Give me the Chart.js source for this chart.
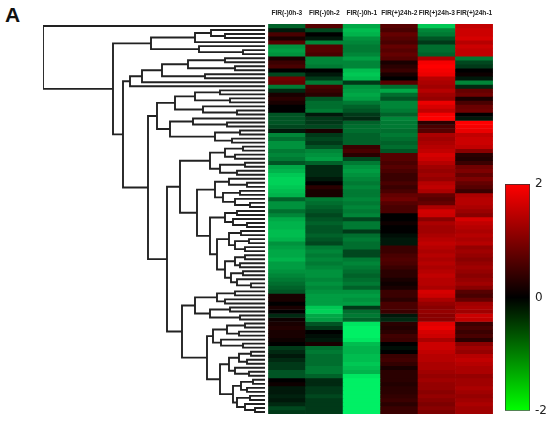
<!DOCTYPE html>
<html>
<head>
<meta charset="utf-8">
<script src="https://cdn.jsdelivr.net/npm/chart.js@4.4.0/dist/chart.umd.min.js"></script>
<style>
  body { margin: 0; background: #fff; }
  #wrap { position: relative; width: 550px; height: 423px; overflow: hidden; }
  canvas { position: absolute; top: 0; }
  #tag { position: absolute; left: 5px; top: 3px; line-height: 20px; font: bold 21px "Liberation Sans", Arial, sans-serif; color: #111; }
</style>
</head>
<body>
<div id="wrap">
  <div id="tag">A</div>
  <canvas id="tree" width="266" height="423" style="left:0px"></canvas>
  <canvas id="heat" width="234" height="423" style="left:265px"></canvas>
  <canvas id="scale" width="60" height="423" style="left:490px"></canvas>
</div>
<script>
// Column names (samples)
const samples = ["FIR(-)0h-3", "FIR(-)0h-2", "FIR(-)0h-1", "FIR(+)24h-2", "FIR(+)24h-3", "FIR(+)24h-1"];

// Colour bar range and ticks
const scaleRange = [-2, 2];
const scaleTicks = [2, 0, -2];

// Expression values per sample, rows top to bottom (97 genes)
const fir0h3 = [-0.6, -0.1, 0.4, 0.1, 0.5, -1.0, -1.1, -1.0, 0.1, 0.3,
  0.4, 0.0, -0.4, 0.7, 0.6, -0.8, -0.2, 0.1, 0.2, 0.1,
  0.0, 0.0, -0.5, -0.5, -0.5, -0.4, -0.1, -0.9, -0.7, -1.0,
  -1.0, -0.8, -0.9, -0.8, -0.5, -1.2, -1.3, -1.5, -1.6, -1.6,
  -1.5, -1.4, -1.3, -0.6, -1.0, -1.0, -0.7, -0.9, -1.2, -1.3,
  -1.3, -1.4, -1.4, -1.3, -1.0, -1.1, -1.2, -1.2, -1.3, -1.1,
  -1.1, -1.0, -0.9, -0.8, -0.7, -0.6, -0.5, 0.1, 0.1, 0.0,
  0.1, 0.0, -0.2, 0.05, 0.1, 0.15, 0.1, 0.1, 0.05, 0.0,
  -0.3, -0.2, -0.1, -0.2, -0.3, -0.3, -0.5, -0.5, 0.0, 0.05,
  -0.1, -0.1, -0.15, -0.1, -0.2, -0.4, -0.3];
const fir0h2 = [0.5, -0.4, 0.0, -0.1, -0.9, 0.5, 0.5, 0.4, -0.9, -0.9,
  -0.8, 0.0, -0.1, -0.3, -0.8, 0.4, 0.3, 0.2, -0.5, -0.7,
  -0.7, -0.8, -0.1, -0.3, -0.3, -0.4, 0.1, -0.3, -0.4, -0.3,
  -0.5, -0.9, -1.0, -1.1, -0.6, -0.2, -0.2, -0.2, -0.1, 0.0,
  0.2, 0.1, 0.1, -0.8, -0.7, -0.6, -0.5, -0.4, -0.5, -0.6,
  -0.5, -0.5, -0.6, -0.5, -0.4, -0.8, -0.9, -0.8, -0.9, -0.8,
  -0.9, -1.0, -1.0, -0.9, -1.0, -0.9, -1.0, -1.1, -1.1, -1.1,
  -1.5, -1.6, -1.2, -1.1, -0.5, -0.3, 0.0, -0.05, -0.1, 0.1,
  -0.7, -0.8, -0.7, -0.7, -0.7, -0.8, -0.8, -0.6, -0.2, -0.2,
  -0.3, -0.3, -0.4, -0.3, -0.3, -0.3, -0.3];
const fir0h1 = [-1.2, -1.4, -1.3, -1.0, -0.9, -0.8, -0.8, -0.9, -1.1, -0.9,
  -0.9, -1.4, -1.5, -1.4, -0.3, -1.0, -1.1, -1.2, -1.1, -0.8,
  -0.6, -0.5, -0.3, -0.2, -0.6, -0.7, -0.7, -0.6, -0.6, -0.6,
  0.3, 0.4, 0.2, -0.4, -0.8, -1.0, -1.1, -1.0, -0.9, -0.8,
  -0.9, -0.8, -0.8, -0.9, -0.8, -0.9, -0.8, -0.9, -0.4, -0.8,
  -0.8, -0.3, -0.7, -0.8, -0.7, -0.7, -0.4, -0.4, -0.8, -0.9,
  -0.8, -0.7, -0.6, -0.7, -0.8, -0.6, -1.0, -1.1, -1.0, -1.1,
  -0.3, -0.7, -0.8, -0.6, -1.8, -1.9, -1.9, -1.9, -1.8, -1.4,
  -1.3, -1.3, -1.4, -1.4, -1.5, -1.4, -1.3, -1.8, -1.9, -1.9,
  -1.9, -1.9, -1.9, -1.9, -1.9, -1.9, -1.9];
const fir24h2 = [0.5, 0.4, 0.6, 0.5, 0.4, 0.6, 0.5, 0.6, 0.5, 0.1,
  0.2, 0.3, 0.1, 0.0, 0.5, -0.7, -1.2, -0.7, -0.5, -0.9,
  -0.9, -0.8, -0.6, -0.9, -0.8, -0.8, -0.7, -0.8, -0.7, -0.6,
  -0.7, -0.5, 0.5, 0.5, 0.4, 0.5, 0.4, 0.3, 0.3, 0.4,
  0.3, 0.4, 0.6, 0.7, 0.5, 0.4, 0.4, 0.0, 0.0, 0.05,
  0.0, 0.0, -0.05, -0.1, -0.1, 0.3, 0.3, 0.4, 0.45, 0.4,
  0.3, 0.2, 0.2, 0.1, 0.05, 0.1, 0.3, 0.3, 0.2, 0.4,
  0.4, 0.3, -0.1, -0.2, 0.2, 0.15, 0.2, 0.35, 0.3, 0.0,
  -0.05, 0.0, 0.3, 0.35, 0.25, 0.1, 0.2, 0.2, 0.2, 0.15,
  0.2, 0.2, 0.25, 0.3, 0.2, 0.3, 0.3];
const fir24h3 = [-1.5, -0.9, -0.8, -0.5, -0.3, -0.7, -0.7, -0.6, 1.2, 1.9,
  2.0, 1.9, 1.8, 1.3, 1.2, 1.1, 1.3, 1.1, 1.0, 1.8,
  1.6, 1.4, 1.9, 2.0, 0.2, 0.4, 0.5, 1.2, 1.1, 1.2,
  1.3, 1.4, 1.6, 1.5, 1.3, 1.1, 1.0, 1.1, 1.0, 1.3,
  1.4, 1.2, 0.6, 0.5, 0.6, 1.2, 1.55, 1.5, 0.9, 1.2,
  1.1, 1.1, 1.2, 1.3, 1.4, 1.3, 1.2, 1.3, 1.2, 1.3,
  1.2, 1.3, 1.4, 1.3, 1.3, 1.2, 1.6, 1.5, 1.2, 1.0,
  0.9, 1.0, 0.9, 0.9, 1.7, 1.8, 1.6, 1.5, 1.2, 1.5,
  1.5, 1.4, 1.3, 1.3, 1.2, 1.2, 1.1, 1.0, 1.1, 1.0,
  1.0, 0.9, 1.0, 0.9, 0.8, 0.9, 0.8];
const fir24h1 = [1.4, 1.5, 1.5, 1.6, 1.3, 1.5, 1.4, 1.4, -0.8, -0.4,
  -0.3, 0.0, 0.05, -0.1, -0.9, -0.2, 0.6, 0.7, 0.1, 0.4,
  0.65, 0.7, 0.0, -0.1, 2.0, 1.9, 1.8, 1.4, 1.5, 1.5,
  1.4, 0.9, 0.2, 0.15, 0.3, 0.7, 0.8, 0.6, 0.8, 0.6,
  0.5, 0.3, 1.2, 1.3, 1.3, 1.2, 1.05, 0.9, 1.6, 1.4,
  1.3, 1.2, 1.3, 1.2, 1.3, 1.0, 1.1, 1.0, 0.9, 1.0,
  1.1, 1.0, 0.9, 1.0, 1.1, 0.9, 0.5, 0.4, 0.6, 1.1,
  1.2, 1.1, 1.5, 1.4, 0.3, 0.4, 0.3, 0.4, 0.2, 0.9,
  1.1, 1.0, 1.3, 1.4, 1.3, 1.2, 1.2, 1.0, 1.1, 1.1,
  1.2, 1.1, 1.0, 1.1, 1.2, 1.1, 1.1];
const columns = [fir0h3, fir0h2, fir0h1, fir24h2, fir24h3, fir24h1];

// Row dendrogram: [merge height, upper child, lower child], leaves are row numbers
const clusterB = [114, [70, [54, 1, [40, 2, 3]], 4], [66, 5, [22, 6, 7]]];
const clusterF = [135, [123, [103, [77, [40, 8, 9], [30, 10, 11]], [60, 12, 13]], 14], 15];
const clusterE = [108,
  [90, [70, [45, 16, 17], [35, 18, 19]], [62, 20, [28, 21, 22]]],
  [95, [72, 23, [38, 24, 25]], [50, [25, 26, 27], [33, 28, 29]]]];
const clusterG1 = [85,
  [55, [40, [22, 30, 31], [30, 32, 33]], [45, [20, 34, 35], [28, 36, 37]]],
  [68,
    [50, [36, 38, [18, 39, 40]], [42, [25, 41, 42], [30, 43, [15, 44, 45]]]],
    [55,
      [40, [28, 46, 47], [32, 48, [18, 49, 50]]],
      [48,
        [36, [24, 51, 52], [30, [16, 53, 54], [20, 55, 56]]],
        [40, [30, [20, 57, 58], [25, 59, 60]], [34, [22, 61, 62], [28, 63, [14, 64, 65]]]]]]]];
const clusterG2 = [83,
  [70, [48, [30, 66, 67], [40, 68, 69]], [55, [35, 70, 71], [25, 72, 73]]],
  [58,
    [52, [38, [20, 74, 75], [26, 76, 77]], [44, 78, [22, 79, 80]]],
    [45,
      [36, [26, [14, 81, 82], [18, 83, 84]], [30, 85, [16, 86, 87]]],
      [32, [24, [12, 88, 89], [18, 90, 91]], [28, [15, 92, 93], [20, 94, [10, 95, 96]]]]]]];
const rowTree = [222, 0, [152, clusterB, [142, clusterF, [117, clusterE, [98, clusterG1, clusterG2]]]]];

window.onload = function () {
  const rowCount = fir0h3.length;

  // Turn the tree into U-shaped line pieces, broken by null points
  function walk(node, pts) {
    if (typeof node === "number") return { y: node, h: 0 };
    const a = walk(node[1], pts);
    const b = walk(node[2], pts);
    pts.push({ x: a.h, y: a.y }, { x: node[0], y: a.y }, { x: node[0], y: b.y }, { x: b.h, y: b.y }, { x: null, y: null });
    return { y: (a.y + b.y) / 2, h: node[0] };
  }
  const treePts = [];
  walk(rowTree, treePts);

  new Chart(document.getElementById("tree"), {
    type: "scatter",
    data: {
      datasets: [{
        data: treePts,
        showLine: true,
        spanGaps: false,
        borderColor: "#222",
        borderWidth: 1.9,
        pointRadius: 0,
      }],
    },
    options: {
      responsive: false,
      animation: false,
      layout: { padding: { left: 43, right: 1, top: 24, bottom: 9 } },
      plugins: { legend: { display: false }, tooltip: { enabled: false } },
      scales: {
        x: { type: "linear", display: false, reverse: true, min: 0, max: rowTree[0] },
        y: { type: "linear", display: false, reverse: true, min: -0.5, max: rowCount - 0.5 },
      },
    },
  });

  // Red / black / green colour for a value (slightly lifted mid tones)
  function cellColor(v) {
    const t = Math.pow(Math.min(Math.abs(v) / 2, 1), 0.78);
    if (v >= 0) return "rgb(" + Math.round(255 * t) + ",0,0)";
    return "rgb(0," + Math.round(250 * t) + "," + Math.round(105 * t) + ")";
  }

  // One dataset per row: floating bars, one per sample
  const heatSets = [];
  for (let r = 0; r < rowCount; r++) {
    heatSets.push({
      data: samples.map(() => [r - 0.5, r + 0.5]),
      backgroundColor: columns.map((col) => cellColor(col[r])),
      borderWidth: 0,
      grouped: false,
      barPercentage: 1,
      categoryPercentage: 1,
    });
  }

  new Chart(document.getElementById("heat"), {
    type: "bar",
    data: { labels: samples, datasets: heatSets },
    options: {
      responsive: false,
      animation: false,
      layout: { padding: { left: 0, right: 0, top: 0, bottom: 9 } },
      plugins: { legend: { display: false }, tooltip: { enabled: false } },
      scales: {
        x: {
          position: "top",
          grid: { display: false, drawTicks: false },
          border: { display: false },
          ticks: {
            autoSkip: false,
            maxRotation: 0,
            padding: 7,
            color: "#222",
            font: { family: "'Liberation Sans', Arial, sans-serif", size: 6.6, weight: "bold" },
          },
          afterFit: function (s) { s.height = 24; },
        },
        y: { type: "linear", display: false, reverse: true, min: -0.5, max: rowCount - 0.5 },
      },
    },
  });

  // Colour key
  new Chart(document.getElementById("scale"), {
    type: "bar",
    data: {
      labels: [""],
      datasets: [{
        data: [scaleRange],
        backgroundColor: function (context) {
          const area = context.chart.chartArea;
          if (!area) return "#000";
          const g = context.chart.ctx.createLinearGradient(0, area.bottom, 0, area.top);
          g.addColorStop(0, "rgb(0,255,0)");
          g.addColorStop(0.5, "rgb(0,0,0)");
          g.addColorStop(1, "rgb(255,0,0)");
          return g;
        },
        borderColor: "#333",
        borderWidth: 1,
        borderSkipped: false,
        barPercentage: 1,
        categoryPercentage: 1,
      }],
    },
    options: {
      responsive: false,
      animation: false,
      layout: { padding: { left: 15, right: 0, top: 184, bottom: 10 } },
      plugins: { legend: { display: false }, tooltip: { enabled: false } },
      scales: {
        x: { display: false },
        y: {
          position: "right",
          min: scaleRange[0],
          max: scaleRange[1],
          grid: { display: false, drawTicks: false },
          border: { display: false },
          ticks: { padding: 5, color: "#222", font: { family: "'DejaVu Sans', sans-serif", size: 12 } },
          afterBuildTicks: function (s) { s.ticks = scaleTicks.map((v) => ({ value: v })); },
          afterFit: function (s) { s.width = 20; },
        },
      },
    },
  });
};
</script>
</body>
</html>
